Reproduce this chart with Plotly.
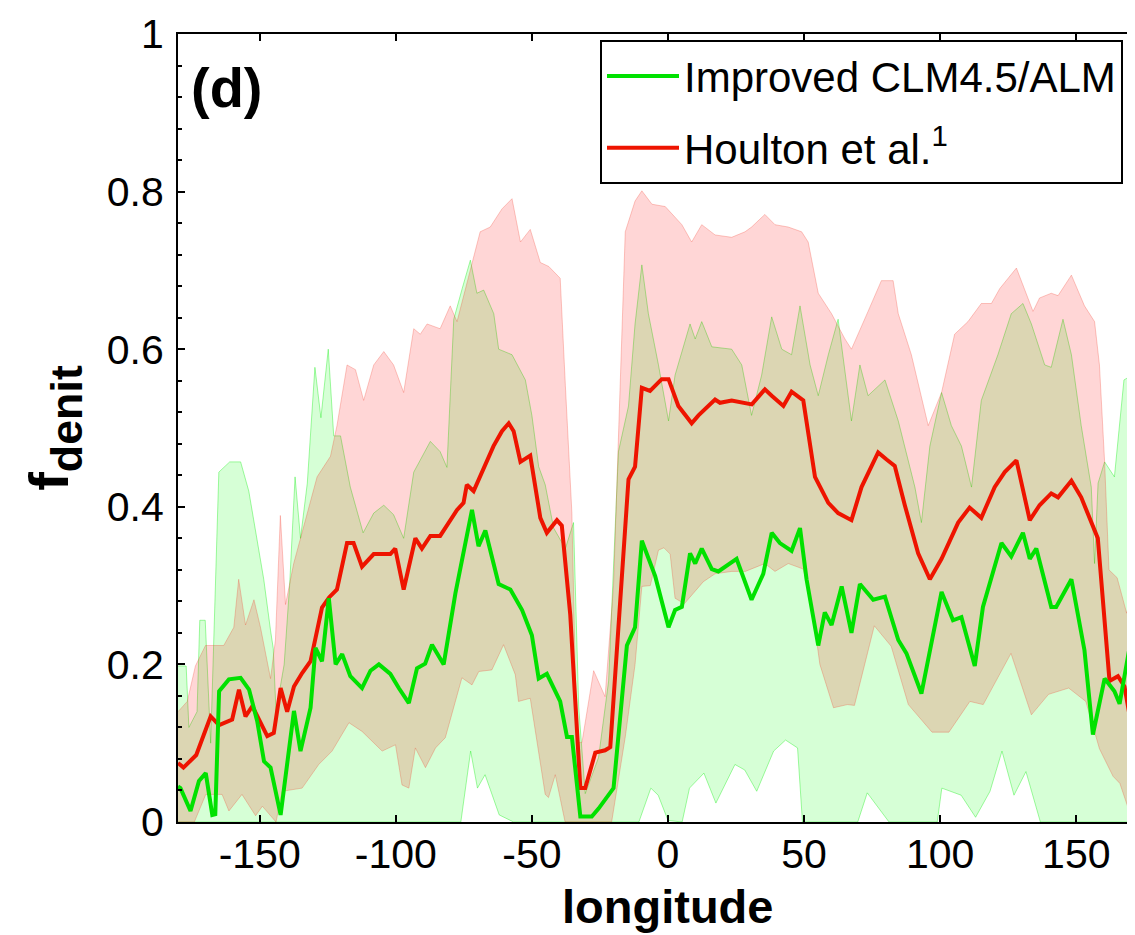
import plotly.graph_objects as go

# ---------------- data ----------------
# Improved CLM4.5/ALM : mean line
green_mean_lon = [-180, -179.1, -175.4, -172.3, -169.8, -167.4, -166.3, -164.9, -161.3, -157, -153.9, -150.9,
                  -148.4, -146, -142.3, -139.3, -137.4, -135, -131.3, -129.5, -127.1, -124.6, -122.1, -119.7,
                  -116.7, -112.4, -109.3, -106.2, -102, -98.9, -95.2, -92.2, -89.2, -86.7, -82.4, -78.1, -75.1,
                  -72, -69.6, -67.1, -62.2, -57.9, -53.6, -50, -47.5, -44.5, -39.6, -37.1, -35.3, -32.2, -28,
                  -25.5, -20, -15.1, -12.1, -9.6, -4.7, 0.2, 2.6, 5.1, 8.1, 10, 12.4, 16.1, 18.5, 25.2, 30.7,
                  35, 38.1, 41.1, 45.4, 48.5, 50.9, 55.2, 57.6, 60.1, 63.8, 67.4, 70.5, 75.4, 79.7, 84.6, 87.6,
                  93.1, 100.5, 104.7, 107.8, 112.7, 115.7, 122.5, 126.1, 130.4, 132.9, 135.3, 140.8, 142.6,
                  148.2, 153, 156.1, 160.4, 164, 165.9, 170.2, 172.6, 174.5]
green_mean_val = [0.045, 0.043, 0.014, 0.052, 0.062, 0.009, 0.01, 0.166, 0.181, 0.183, 0.168, 0.128,
                  0.077, 0.069, 0.009, 0.094, 0.141, 0.09, 0.145, 0.221, 0.204, 0.284, 0.2, 0.213,
                  0.185, 0.17, 0.192, 0.2, 0.188, 0.17, 0.151, 0.195, 0.201, 0.225, 0.2, 0.29, 0.341,
                  0.396, 0.35, 0.37, 0.302, 0.295, 0.269, 0.237, 0.182, 0.188, 0.153, 0.108, 0.108, 0.007, 0.007,
                  0.017, 0.043, 0.224, 0.247, 0.357, 0.312, 0.247, 0.269, 0.273, 0.341, 0.328, 0.347, 0.321, 0.318,
                  0.334, 0.282, 0.315, 0.367, 0.354, 0.344, 0.373, 0.308, 0.224, 0.266, 0.25, 0.299, 0.24, 0.302,
                  0.282, 0.286, 0.231, 0.214, 0.163, 0.292, 0.256, 0.26, 0.198, 0.273, 0.354, 0.337, 0.367,
                  0.334, 0.347, 0.273, 0.273, 0.308, 0.218, 0.111, 0.182, 0.166, 0.15, 0.234, 0.218, 0.157]

# Improved CLM4.5/ALM : spread (upper / lower)
green_up_lon = [-180, -177, -176, -173, -172, -170, -168, -165, -161, -157, -154, -151, -148.5, -146, -145,
                -144, -141, -139, -137, -135, -132.5, -129.7, -127.5, -124.8, -122.8, -120.3, -116.7, -112,
                -108.1, -104.4, -100.8, -97.1, -93.4, -87.3, -83.7, -81.2, -78.7, -75.6, -72.6, -70.2, -67.7,
                -64, -62.2, -57.3, -52.4, -50, -47.5, -45.1, -42, -37.7, -34.7, -32.8, -30.4, -25.5, -21.8,
                -18.2, -14.5, -12.1, -9.6, -7.2, -3.5, 0.2, 2.6, 8.1, 10, 12.4, 16.1, 23.4, 27.1, 30.7, 34.4,
                38.1, 41.8, 45.4, 48.5, 52.2, 55.2, 58.9, 62.5, 67.4, 70.5, 73.5, 79.7, 84.6, 88.2, 90.7, 93.1,
                96.2, 100.5, 104.1, 107.8, 111.5, 115.1, 121.2, 126.1, 130.4, 133.5, 138.4, 140.8, 145.1,
                148.2, 151.8, 155.5, 156.7, 158, 160.4, 164, 167.5, 170.5, 172.9, 174.5]
green_up_val = [0.198, 0.198, 0.12, 0.14, 0.256, 0.256, 0.1, 0.444, 0.457, 0.457, 0.42, 0.36, 0.308, 0.243, 0.22,
                0.14, 0.2, 0.3, 0.438, 0.36, 0.43, 0.577, 0.513, 0.6, 0.49, 0.49, 0.425, 0.367,
                0.392, 0.402, 0.39, 0.36, 0.444, 0.483, 0.47, 0.45, 0.638, 0.677, 0.713, 0.671, 0.675,
                0.645, 0.6, 0.593, 0.561, 0.516, 0.451, 0.428, 0.373, 0.347, 0.38, 0.146, 0.036, 0.082, 0.179,
                0.47, 0.528, 0.632, 0.707, 0.645, 0.58, 0.509, 0.567, 0.632, 0.613, 0.635, 0.603, 0.6, 0.58, 0.516, 0.567,
                0.641, 0.6, 0.593, 0.655, 0.58, 0.541, 0.593, 0.638, 0.509, 0.58, 0.541, 0.561, 0.509, 0.457, 0.425, 0.38,
                0.477, 0.545, 0.503, 0.477, 0.425, 0.535, 0.593, 0.645, 0.658, 0.632, 0.58, 0.577, 0.638,
                0.593, 0.503, 0.425, 0.328, 0.43, 0.457, 0.438, 0.561, 0.567, 0.49, 0.45]
green_lo_lon = [-180, -76.1, -72.5, -70, -67.2, -62, -56.7, -10.7, -6.3, -3.6, 0, 5.2, 7.9, 13.2, 17.6, 24.6,
                28.2, 32.6, 38.8, 43.2, 47.6, 49.4, 69.7, 73.2, 81.2, 98.9, 100.6, 107.7, 113, 118.3, 122.7,
                127.1, 131.5, 136.8, 174.5]
green_lo_val = [0.0, 0.0, 0.09, 0.043, 0.06, 0.009, 0.0, 0.0, 0.043, 0.034, 0.002, 0.0, 0.043, 0.062, 0.024, 0.073,
                0.066, 0.039, 0.09, 0.104, 0.094, 0.0, 0.0, 0.037, 0.0, 0.0, 0.043, 0.034, 0.006, 0.039, 0.09,
                0.034, 0.064, 0.0, 0.0]

# Houlton et al. : mean line
red_mean_lon = [-180, -178, -173.3, -169.8, -168, -164.9, -160.1, -157.6, -155.2, -152.7, -147.2, -144.8,
                -142.3, -139.9, -137.4, -134.4, -131.3, -127.1, -124.5, -121.6, -117.9, -115.5, -112.4, -108.1,
                -102, -100.2, -97.1, -92.8, -90.4, -87.3, -83.7, -77.5, -75.1, -73.9, -71.4, -64.1, -61, -58.5,
                -56.7, -54.2, -50.6, -46.9, -44.5, -40.8, -39, -35.9, -32.2, -30.4, -26.7, -23.1, -21.2, -14.5,
                -12.1, -9.6, -6.6, -2.3, 0.2, 3.8, 8.7, 11.2, 17.3, 19.1, 23.4, 30.8, 35.6, 38.1, 42.4, 45.4,
                49.7, 54, 58.9, 62.5, 67.4, 71.1, 77.2, 80.3, 83.3, 87, 91.9, 96.2, 100.5, 106.6, 110.8, 115.1,
                120, 123.7, 128, 132.9, 136.5, 140.8, 143.3, 148.2, 151.8, 157.9, 162.2, 165.3, 167.7, 170.6, 174.5]
red_mean_val = [0.075, 0.069, 0.085, 0.119, 0.134, 0.123, 0.13, 0.168, 0.134, 0.147, 0.109, 0.113,
                0.17, 0.14, 0.172, 0.189, 0.204, 0.272, 0.285, 0.295, 0.354, 0.354, 0.324, 0.34,
                0.34, 0.347, 0.295, 0.36, 0.347, 0.363, 0.363, 0.396, 0.405, 0.428, 0.42, 0.477, 0.496, 0.506,
                0.496, 0.457, 0.465, 0.386, 0.367, 0.383, 0.376, 0.263, 0.043, 0.043, 0.088, 0.091, 0.095, 0.435,
                0.451, 0.551, 0.547, 0.562, 0.562, 0.528, 0.506, 0.516, 0.536, 0.532, 0.535, 0.53, 0.549, 0.541, 0.528, 0.546,
                0.535, 0.438, 0.405, 0.392, 0.383, 0.425, 0.469, 0.46, 0.452, 0.402, 0.341, 0.308, 0.334, 0.38, 0.399, 0.386,
                0.425, 0.444, 0.459, 0.383, 0.402, 0.417, 0.412, 0.433, 0.412, 0.36, 0.179, 0.185, 0.172, 0.115, 0.24]

# Houlton et al. : spread (upper / lower)
red_up_lon = [-180, -176.6, -173.6, -169.9, -163.2, -159.5, -157.7, -155.2, -152.1, -149.7, -146, -144.2,
              -142.4, -140.5, -137.5, -132.6, -128.9, -124, -121.6, -117.9, -114.8, -111.8, -108.1, -104.4,
              -100.8, -97.1, -93.4, -91, -88.5, -83.7, -80, -77.5, -69, -65.3, -61, -57.3, -54.2, -50.6, -46.9,
              -43.8, -39.6, -37.7, -35.3, -33.5, -31.6, -27.3, -23.1, -20, -18.2, -15.7, -12.1, -9.6, -5.9, -1,
              5.1, 8.7, 12.4, 17.3, 23.4, 28.3, 30.7, 35.6, 39.3, 44.2, 49.1, 51.5, 55.2, 60.1, 65, 67.4, 73.5,
              78.4, 82.7, 84.6, 89.4, 95.6, 100.5, 105.3, 110.2, 115.1, 118.8, 121.9, 128, 131.6, 134.1, 136.5,
              140.8, 143.3, 148.2, 153, 156.7, 158.5, 160.4, 162, 165, 168.5, 171, 174.5]
red_up_val = [0.14, 0.153, 0.198, 0.224, 0.224, 0.247, 0.308, 0.25, 0.282, 0.247, 0.182, 0.231,
              0.389, 0.276, 0.328, 0.392, 0.438, 0.464, 0.503, 0.58, 0.574, 0.535, 0.58, 0.597,
              0.58, 0.545, 0.626, 0.619, 0.632, 0.626, 0.655, 0.635, 0.749, 0.755, 0.778, 0.791, 0.736, 0.752, 0.71,
              0.705, 0.69, 0.554, 0.392, 0.101, 0.101, 0.192, 0.159, 0.3, 0.49, 0.749, 0.788, 0.801, 0.784, 0.781,
              0.758, 0.736, 0.758, 0.745, 0.742, 0.749, 0.755, 0.771, 0.758, 0.755, 0.749, 0.736, 0.671, 0.645, 0.613, 0.6, 0.648,
              0.687, 0.687, 0.645, 0.593, 0.503, 0.545, 0.619, 0.635, 0.658, 0.658, 0.677, 0.703, 0.671, 0.648, 0.665,
              0.671, 0.668, 0.694, 0.655, 0.635, 0.58, 0.457, 0.32, 0.31, 0.265, 0.3, 0.45]
red_lo_lon = [-180, -174, -169.8, -163.8, -161.3, -156.5, -151.5, -149, -144, -141.7, -134.4, -128.3, -123.4,
              -117.2, -112.4, -105, -100.1, -97.7, -95.2, -92.8, -89.1, -85.4, -81.8, -75.7, -72, -69.5, -64.7,
              -60.4, -56.1, -54.9, -50.6, -45.1, -43.9, -41.4, -37.8, -20.7, -15.7, -12.1, -9.6, -6.5, -3.5,
              -1.5, 0.8, 2.6, 6, 9, 13, 17.3, 23.4, 28.4, 35.6, 39.3, 44.2, 49.7, 52.8, 55.8, 60.8, 65.9, 68.5,
              75.8, 82, 88.3, 97, 103.2, 110.9, 115.8, 126, 133.5, 139.8, 147.2, 153.5, 158.5, 163.5, 166,
              169.8, 174.5]
red_lo_val = [0.0, 0.0, 0.035, 0.035, 0.014, 0.035, 0.008, 0.02, 0.0, 0.039, 0.043, 0.073, 0.09,
              0.126, 0.115, 0.09, 0.098, 0.047, 0.043, 0.094, 0.069, 0.094, 0.107, 0.183, 0.174, 0.191, 0.193,
              0.225, 0.187, 0.153, 0.157, 0.035, 0.031, 0.06, 0.0, 0.0, 0.108, 0.2, 0.299, 0.3, 0.345,
              0.348, 0.34, 0.284, 0.277, 0.289, 0.305, 0.315, 0.318, 0.318, 0.328, 0.318, 0.328, 0.321, 0.276, 0.2,
              0.145, 0.149, 0.148, 0.249, 0.223, 0.149, 0.114, 0.114, 0.153, 0.149, 0.214, 0.136, 0.162, 0.17,
              0.153, 0.093, 0.058, 0.049, 0.01, 0.0]

x_ticks = [-150, -100, -50, 0, 50, 100, 150]
x_tick_text = ['-150', '-100', '-50', '0', '50', '100', '150']
y_ticks = [0, 0.2, 0.4, 0.6, 0.8, 1]
y_tick_text = ['0', '0.2', '0.4', '0.6', '0.8', '1']

# ---------------- figure ----------------
FONT = 'Liberation Sans, Arial, Helvetica, sans-serif'
GREEN = 'rgb(0,225,0)'
RED = 'rgb(238,20,0)'

fig = go.Figure()
fig.add_trace(go.Scatter(x=green_lo_lon, y=green_lo_val, mode='lines',
                         line=dict(color='rgba(0,235,0,0.45)', width=0.8),
                         showlegend=False, hoverinfo='skip'))
fig.add_trace(go.Scatter(x=green_up_lon, y=green_up_val, mode='lines', fill='tonexty',
                         fillcolor='rgba(0,255,0,0.16)',
                         line=dict(color='rgba(0,235,0,0.45)', width=0.8),
                         showlegend=False, hoverinfo='skip'))
fig.add_trace(go.Scatter(x=red_lo_lon, y=red_lo_val, mode='lines',
                         line=dict(color='rgba(240,60,40,0.35)', width=0.8),
                         showlegend=False, hoverinfo='skip'))
fig.add_trace(go.Scatter(x=red_up_lon, y=red_up_val, mode='lines', fill='tonexty',
                         fillcolor='rgba(255,0,0,0.16)',
                         line=dict(color='rgba(240,60,40,0.35)', width=0.8),
                         showlegend=False, hoverinfo='skip'))
fig.add_trace(go.Scatter(x=red_mean_lon, y=red_mean_val, mode='lines', name='Houlton et al.<sup>1</sup>',
                         line=dict(color=RED, width=4), legendrank=2, legendgroup='houlton'))
fig.add_trace(go.Scatter(x=green_mean_lon, y=green_mean_val, mode='lines', name='Improved CLM4.5/ALM',
                         line=dict(color=GREEN, width=4), legendrank=1, legendgroup='clm'))

fig.update_layout(
    width=1135, height=935,
    margin=dict(l=170, r=0, t=26, b=121),
    paper_bgcolor='white', plot_bgcolor='white',
    font=dict(family=FONT, color='black', size=40),
    legend=dict(x=(592 - 170) / 965, y=0.992, xanchor='left', yanchor='top', traceorder='grouped',
                bgcolor='white', bordercolor='black', borderwidth=2,
                font=dict(family=FONT, size=42, color='black'),
                itemwidth=72, tracegroupgap=14),
    xaxis=dict(range=[-180, 174.5], tickmode='array', tickvals=x_ticks, ticktext=x_tick_text,
               ticks='inside', ticklen=7, tickwidth=2, tickcolor='black',
               showline=True, linewidth=2, linecolor='black', mirror='ticks',
               showgrid=False, zeroline=False, ticklabelstandoff=-5,
               tickfont=dict(family=FONT, size=41, color='black')),
    yaxis=dict(range=[0, 1], tickmode='array', tickvals=y_ticks, ticktext=y_tick_text,
               ticks='inside', ticklen=7, tickwidth=2, tickcolor='black',
               minor=dict(ticks='inside', ticklen=4, tickwidth=2, tickcolor='black', dtick=0.04, showgrid=False),
               showline=True, linewidth=2, linecolor='black', mirror=False,
               showgrid=False, zeroline=False, ticklabelstandoff=4,
               tickfont=dict(family=FONT, size=41, color='black'),
               title=dict(text='<b><span style="font-size:56px">f</span><sub>denit</sub></b>',
                          font=dict(family=FONT, size=64, color='black'),
                          standoff=17)),
    showlegend=True,
)

fig.add_annotation(text='<b>longitude</b>', xref='x', yref='paper', x=0, y=-0.107, yanchor='middle',
                   showarrow=False, font=dict(family=FONT, size=47, color='black'))
fig.add_annotation(text='<b>(d)</b>', xref='paper', yref='paper', x=(181 - 170) / 965, y=1 - (46 - 26) / 788,
                   xanchor='left', yanchor='top', showarrow=False,
                   font=dict(family=FONT, size=56, color='black'))

fig.write_html('out.html')
